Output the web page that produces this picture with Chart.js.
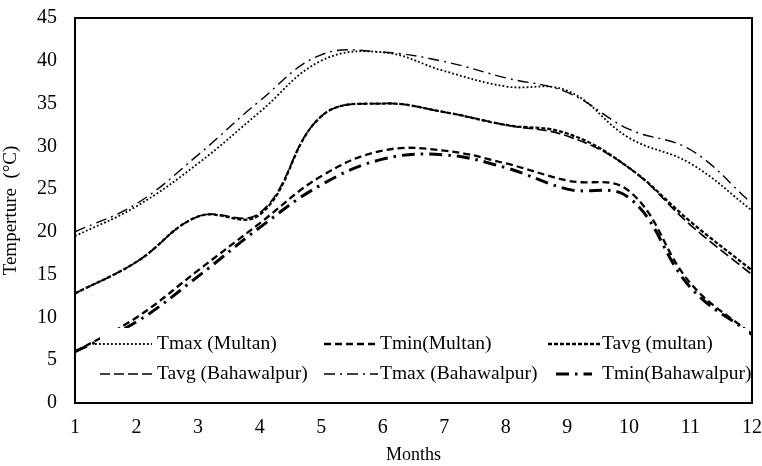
<!DOCTYPE html>
<html>
<head>
<meta charset="utf-8">
<script src="https://cdn.jsdelivr.net/npm/chart.js@4/dist/chart.umd.min.js"></script>
<style>
  html, body { margin: 0; padding: 0; background: #fff; }
  #wrap { width: 762px; height: 466px; }
</style>
</head>
<body>
<div id="wrap"><canvas id="c" width="762" height="466"></canvas></div>
<script>
// Monthly temperatures (°C) for Multan and Bahawalpur
const months = [1, 2, 3, 4, 5, 6, 7, 8, 9, 10, 11, 12];
const tmaxMultan      = [19.5, 23.0, 28.0, 34.0, 40.0, 41.0, 38.8, 37.0, 36.5, 31.0, 28.0, 22.5];
const tminMultan      = [6.0, 10.0, 15.5, 21.0, 26.5, 29.5, 29.5, 28.0, 26.0, 24.8, 14.0, 8.0];
const tavgMultan      = [12.8, 16.5, 21.8, 22.0, 33.5, 35.0, 34.0, 32.5, 31.5, 27.5, 21.2, 15.5];
const tavgBahawalpur  = [12.8, 16.5, 21.8, 22.2, 33.5, 35.0, 34.0, 32.5, 31.2, 27.5, 20.8, 15.0];
const tmaxBahawalpur  = [20.0, 23.3, 29.0, 35.3, 40.7, 41.0, 39.9, 38.0, 36.3, 32.0, 29.6, 23.3];
const tminBahawalpur  = [6.0, 9.5, 14.8, 20.5, 25.5, 28.5, 29.0, 27.5, 25.0, 24.0, 13.5, 8.0];
const yTicks = [0, 5, 10, 15, 20, 25, 30, 35, 40, 45];

const FONT = '"Liberation Serif", "Times New Roman", serif';

function series(label, values, dash, width) {
  return {
    label: label,
    data: months.map((m, i) => ({ x: m, y: values[i] })),
    borderColor: '#000',
    backgroundColor: '#000',
    borderWidth: width,
    borderDash: dash,
    borderCapStyle: 'butt',
    pointRadius: 0,
    pointHoverRadius: 0,
    tension: 0.4,
    fill: false
  };
}

const datasets = [
  series('Tmax (Multan)', tmaxMultan, [1.8, 2.2], 1.8),
  series('Tmin(Multan)', tminMultan, [7, 4], 2.3),
  series('Tavg (multan)', tavgMultan, [4, 2], 2.3),
  series('Tavg (Bahawalpur)', tavgBahawalpur, [10, 4], 1.7),
  series('Tmax (Bahawalpur)', tmaxBahawalpur, [11, 5, 2, 5], 1.4),
  series('Tmin(Bahawalpur)', tminBahawalpur, [13, 6, 2.5, 6], 3)
];

// In-plot legend in two rows of three, then the frame around the plot
const framePlugin = {
  id: 'frameAndLegend',
  afterDraw(chart) {
    const { ctx, chartArea: a } = chart;
    ctx.save();
    const lx = 100, ly = 328, lw = a.right - lx - 3, lh = 62;
    ctx.fillStyle = '#fff';
    ctx.fillRect(lx, ly, lw, lh);
    const textX = [157, 380, 602];
    const rows = [344, 374];
    const sampleX = [
      [95, 152], [324, 378], [548, 600],
      [100, 152], [324, 378], [556, 592]
    ];
    ctx.font = '19.5px ' + FONT;
    ctx.textBaseline = 'middle';
    ctx.fillStyle = '#000';
    chart.data.datasets.forEach((ds, i) => {
      const r = Math.floor(i / 3), c = i % 3;
      const y = rows[r];
      ctx.beginPath();
      ctx.strokeStyle = '#000';
      ctx.lineWidth = ds.borderWidth;
      ctx.setLineDash(ds.borderDash);
      ctx.lineCap = 'butt';
      ctx.moveTo(sampleX[i][0], y);
      ctx.lineTo(sampleX[i][1], y);
      ctx.stroke();
      ctx.setLineDash([]);
      ctx.fillText(ds.label, textX[c], y);
    });
    ctx.setLineDash([]);
    ctx.strokeStyle = '#000';
    ctx.lineWidth = 2;
    const L = Math.round(a.left), T = Math.round(a.top);
    const R = Math.round(a.right), B = Math.round(a.bottom);
    ctx.strokeRect(L, T, R - L, B - T);
    ctx.restore();
  }
};

new Chart(document.getElementById('c'), {
  type: 'line',
  data: { datasets: datasets },
  options: {
    responsive: false,
    animation: false,
    devicePixelRatio: 1,
    layout: { padding: { top: 18, right: 10, left: 0, bottom: 0 } },
    plugins: { legend: { display: false }, tooltip: { enabled: false } },
    scales: {
      x: {
        type: 'linear',
        min: 1,
        max: 12,
        grid: { display: false, drawTicks: false },
        border: { display: false },
        afterBuildTicks(axis) { axis.ticks = months.map(v => ({ value: v })); },
        ticks: {
          color: '#000',
          font: { family: FONT, size: 20 },
          padding: 13,
          maxRotation: 0,
          autoSkip: false
        },
        title: {
          display: true,
          text: 'Months',
          color: '#000',
          font: { family: FONT, size: 18 },
          padding: { top: 0, bottom: 0 }
        },
        afterFit(axis) {
          axis.height = 63;
          axis.paddingLeft = 0;
          axis.paddingRight = 0;
        }
      },
      y: {
        min: 0,
        max: 45,
        grid: { display: false, drawTicks: false },
        border: { display: false },
        afterBuildTicks(axis) { axis.ticks = yTicks.map(v => ({ value: v })); },
        ticks: {
          color: '#000',
          font: { family: FONT, size: 20 },
          padding: 18
        },
        title: {
          display: true,
          text: 'Temperture  (°C)',
          color: '#000',
          font: { family: FONT, size: 19 },
          padding: { top: 0, bottom: 2 }
        },
        afterFit(axis) {
          axis.width = 75;
          axis.paddingTop = 0;
          axis.paddingBottom = 0;
        }
      }
    }
  },
  plugins: [framePlugin]
});
</script>
</body>
</html>
